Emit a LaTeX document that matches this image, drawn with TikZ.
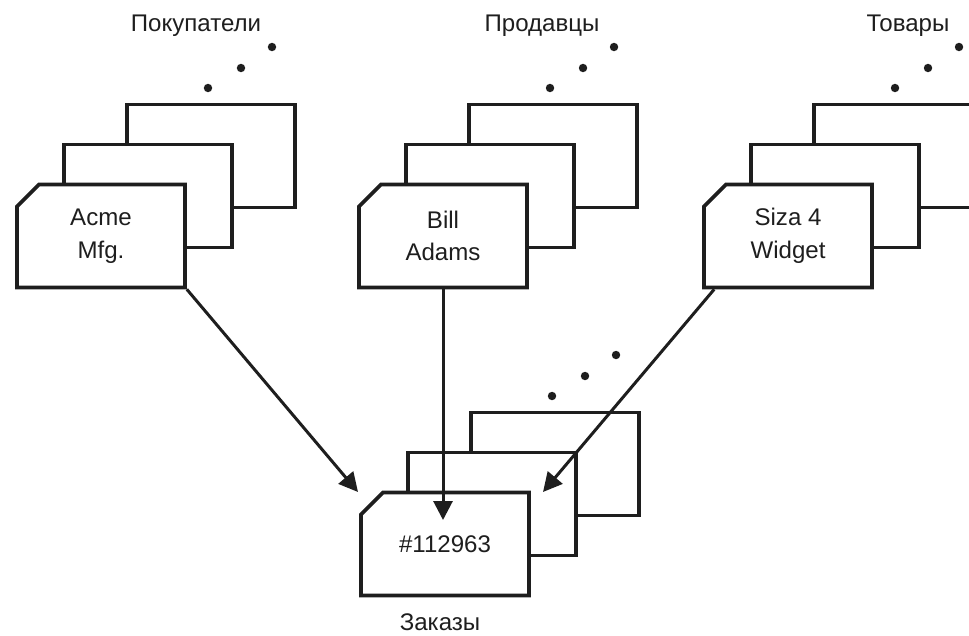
\documentclass[tikz,border=0pt]{standalone}
\usepackage{fontspec}
\setmainfont{Liberation Sans}
\usetikzlibrary{arrows.meta,shapes.misc,calc}
\definecolor{inkdark}{HTML}{1E1E1E}
\tikzset{
  card/.style={chamfered rectangle, chamfered rectangle corners=north west,
    chamfered rectangle xsep=0.17cm, chamfered rectangle ysep=0.27cm,
    draw=inkdark, fill=white, line width=2.1pt, minimum width=3.36cm,
    minimum height=2.06cm, inner sep=0pt, align=center, text=inkdark},
  setlabel/.style={anchor=base, text=inkdark},
  link/.style={->, draw=inkdark, line width=1.7pt},
  dot/.style={fill=inkdark}
}

\begin{document}
\begin{tikzpicture}[x=0.02cm,y=-0.02cm,>={Triangle[length=3.8mm,width=3.8mm]},
    font=\fontsize{13.7}{18.5}\selectfont]
    \useasboundingbox (0,0) rectangle (969,635);
    \clip (0,0) rectangle (969,635);

    % card stacks: back card, middle card, front card
    \foreach \nm/\cx/\cy/\txt in {acme/101/236/{Acme\\Mfg.},
        bill/443/236/{Bill\\Adams}, widget/788/236/{Siza 4\\Widget},
        order/445/544/{\#112963}} {
      \node[card] (\nm3) at ({\cx+110},{\cy-80}) {};
      \node[card] (\nm2) at ({\cx+47},{\cy-40}) {};
      \node[card] (\nm)  at (\cx,\cy) {\txt};
      % more records
      \fill[dot] ({\cx+107},{\cy-148}) circle[radius=2.4pt];
      \fill[dot] ({\cx+140},{\cy-168}) circle[radius=2.4pt];
      \fill[dot] ({\cx+171},{\cy-189}) circle[radius=2.4pt];
    }

    % set names
    \node[setlabel] (buyers)  at (196,32)  {Покупатели};
    \node[setlabel] (sellers) at (542,32)  {Продавцы};
    \node[setlabel] (goods)   at (908,32)  {Товары};
    \node[setlabel] (orders)  at (440,630) {Заказы};

    % references to the order
    \coordinate (acmetip)   at (358,492);
    \coordinate (billtip)   at (443,520);
    \coordinate (widgettip) at (543,492);
    \draw[link] (acme.south east) -- (acmetip);
    \draw[link] (bill.south) -- (billtip);
    \draw[link] ($(widget.south west)+(12,0)$) -- (widgettip);
  \end{tikzpicture}
\end{document}
